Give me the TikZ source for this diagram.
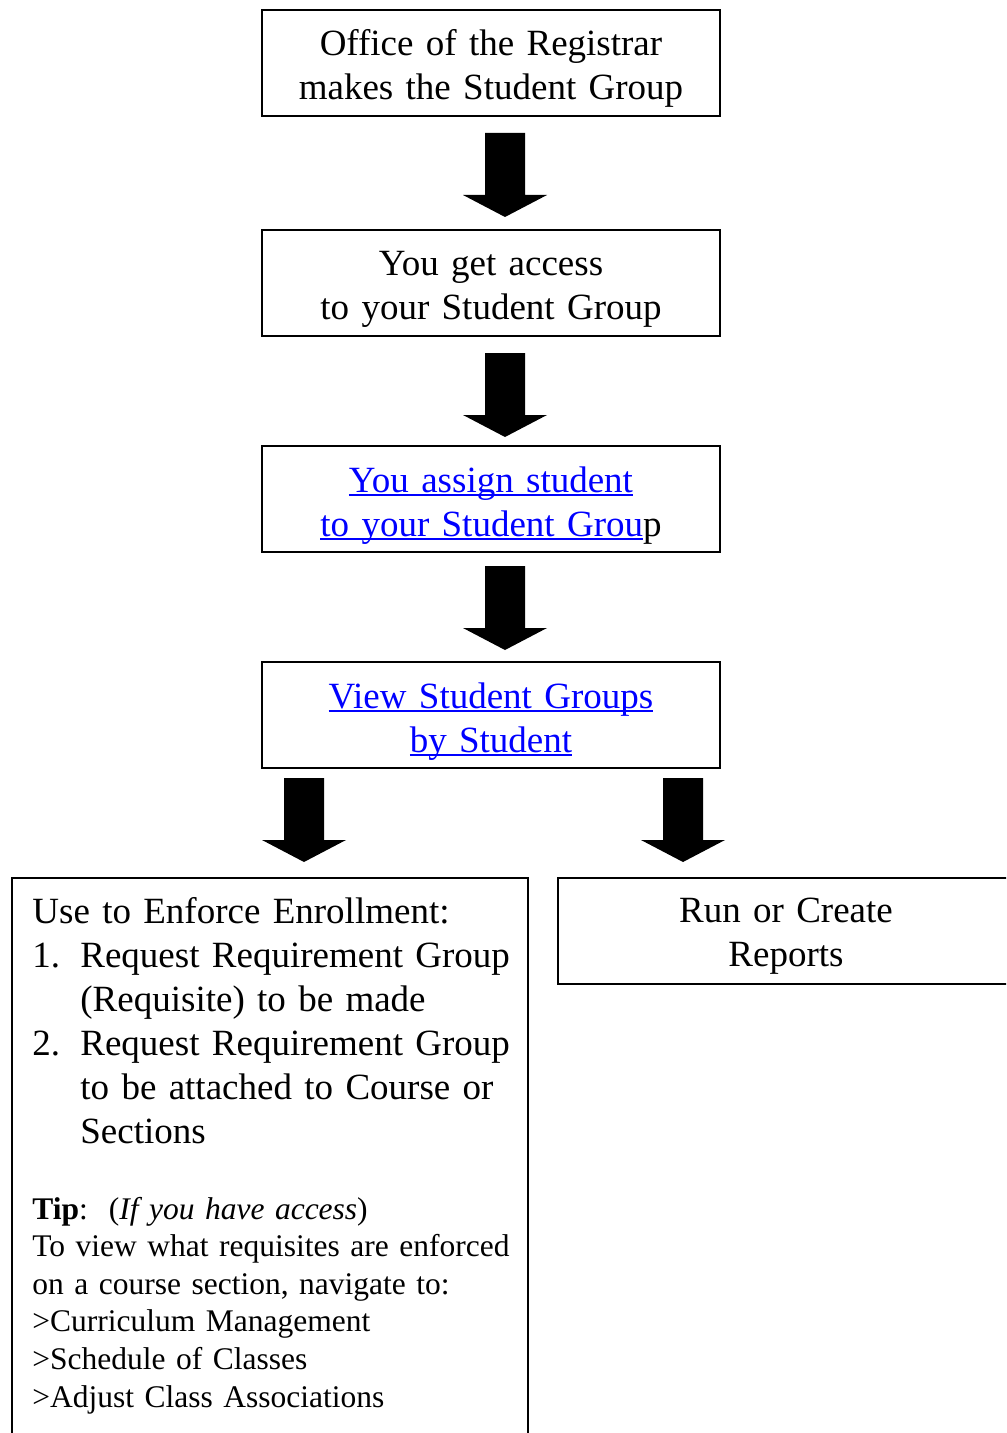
\documentclass[tikz,border=0pt]{standalone}
\usepackage{fontspec}
\setmainfont{Liberation Serif}[WordSpace=0.8]
\usetikzlibrary{calc}
\definecolor{linkblue}{RGB}{0,0,255}
\newcommand{\lnk}[1]{\leavevmode{\color{linkblue}\setbox0\hbox{#1}\rlap{\rule[-2pt]{\wd0}{0.9pt}}\box0}}
\begin{document}
\begin{tikzpicture}[x=0.5pt,y=-0.5pt,
  flowbox/.style={draw, line width=1pt, minimum width=229pt, minimum height=53pt, inner sep=0pt},
  sidebox/.style={draw, line width=1pt, inner sep=0pt},
  bigtext/.style={font=\fontsize{18.5pt}{22pt}\selectfont, inner sep=0pt, text width=250pt},
  centertext/.style={bigtext, align=center, anchor=base},
  lefttext/.style={bigtext, align=left, anchor=base west, text width=262pt},
  tiptext/.style={font=\fontsize{15.75pt}{18.8pt}\selectfont, inner sep=0pt, align=left, anchor=base west, text width=262pt},
  blockarrow/.pic={\fill[black] (-20,0) -- (20,0) -- (20,62) -- (42,62) -- (0,84) -- (-42,62) -- (-20,62) -- cycle;}
]
\useasboundingbox (0,0) rectangle (1006,1433);
\begin{scope}
\clip (0,0) rectangle (1006,1433);

% main column boxes
\node[flowbox] (b1) at (491,63) {};
\node[flowbox] (b2) at (491,283) {};
\node[flowbox] (b3) at (491,499) {};
\node[flowbox] (b4) at (491,715) {};

\node[centertext] (t1) at (491,56) {Office of the Registrar\\makes the Student Group};
\node[centertext] (t2) at (491,276) {You get access\\to your Student Group};
\node[centertext] (t3) at (491,492) {\lnk{You assign student}\\\lnk{to your Student Grou}p};
\node[centertext] (t4) at (491,708) {\lnk{View Student Groups}\\\lnk{by Student}};

% bottom boxes
\node[sidebox, minimum width=258pt, minimum height=291pt] (lb) at (270,1169) {};
\node[sidebox, minimum width=231pt, minimum height=53pt] (rb) at (789,931) {};

\node[lefttext] (lt) at (32,923) {Use to Enforce Enrollment:\\
\makebox[24pt][l]{1.}Request Requirement Group\\
\hspace*{24pt}(Requisite) to be made\\
\makebox[24pt][l]{2.}Request Requirement Group\\
\hspace*{24pt}to be attached to Course or\\
\hspace*{24pt}Sections};

\node[tiptext] (tip) at (32,1219) {\textbf{Tip}:\ \ (\textit{If you have access})\\
To view what requisites are enforced\\
on a course section, navigate to:\\
>Curriculum Management\\
>Schedule of Classes\\
>Adjust Class Associations};

\node[centertext] (rt) at (786,922) {Run or Create\\Reports};

% block arrows
\pic at ($(b1.south)+(14,16)$) {blockarrow};
\pic at ($(b2.south)+(14,16)$) {blockarrow};
\pic at ($(b3.south)+(14,13)$) {blockarrow};
\pic at ($(b4.south)+(-187,9)$) {blockarrow};
\pic at ($(b4.south)+(192,9)$) {blockarrow};
\end{scope}
\end{tikzpicture}
\end{document}
